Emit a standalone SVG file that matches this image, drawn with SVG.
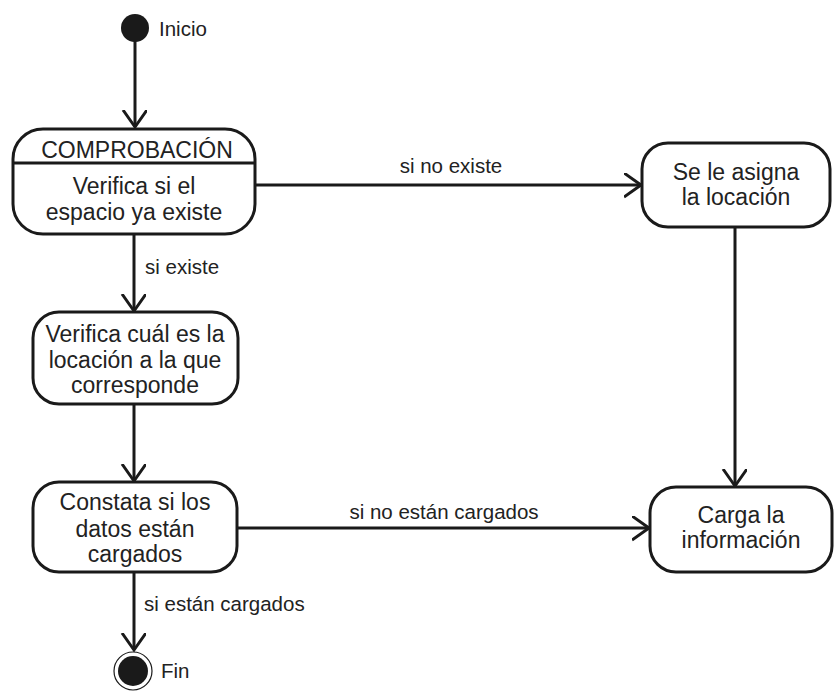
<svg xmlns="http://www.w3.org/2000/svg" width="835" height="691" viewBox="0 0 835 691">
<style>
.node{fill:#fff;stroke:#1a1a1a;stroke-width:3}
.nt{font-family:"Liberation Sans",Arial,sans-serif;font-size:23px;fill:#222;text-anchor:middle}
.lt{font-family:"Liberation Sans",Arial,sans-serif;font-size:20.5px;fill:#222}
.edge{fill:none;stroke:#1a1a1a;stroke-width:3;marker-end:url(#arr)}
</style>
<defs>
<marker id="arr" markerUnits="userSpaceOnUse" markerWidth="30" markerHeight="30" refX="17" refY="12" orient="auto">
<path d="M0,0 L17,12 L0,24" fill="none" stroke="#1a1a1a" stroke-width="3"/>
</marker>
</defs>
<g id="connectors">
<line class="edge" x1="135" y1="40" x2="135" y2="127"/>
<line class="edge" x1="134" y1="235" x2="134" y2="311"/>
<line class="edge" x1="134" y1="405" x2="134" y2="481"/>
<line class="edge" x1="134" y1="573" x2="134" y2="650"/>
<line class="edge" x1="256" y1="185" x2="641" y2="185"/>
<line class="edge" x1="735" y1="228" x2="735" y2="486"/>
<line class="edge" x1="238" y1="528" x2="649" y2="528"/>
<text class="lt" x="145" y="274">si existe</text>
<text class="lt" x="144" y="611">si están cargados</text>
<text class="lt" x="451" y="173" text-anchor="middle">si no existe</text>
<text class="lt" x="444" y="519" text-anchor="middle">si no están cargados</text>
</g>
<g id="inicio">
<circle cx="135" cy="28" r="14" fill="#1a1a1a"/>
<text class="lt" x="159" y="36">Inicio</text>
</g>
<g id="comprobacion">
<rect class="node" x="13" y="129" width="242" height="105" rx="30"/>
<line x1="13" y1="163" x2="255" y2="163" stroke="#1a1a1a" stroke-width="3"/>
<text class="nt" x="137" y="158" font-size="27">COMPROBACIÓN</text>
<text class="nt" x="134" y="194">Verifica si el</text>
<text class="nt" x="134" y="220">espacio ya existe</text>
</g>
<g id="verifica">
<rect class="node" x="33" y="312" width="205" height="92" rx="26"/>
<text class="nt" x="135" y="342">Verifica cuál es la</text>
<text class="nt" x="135" y="368">locación a la que</text>
<text class="nt" x="135" y="393">corresponde</text>
</g>
<g id="constata">
<rect class="node" x="33" y="482" width="204" height="90" rx="26"/>
<text class="nt" x="135" y="510">Constata si los</text>
<text class="nt" x="135" y="537">datos están</text>
<text class="nt" x="135" y="562">cargados</text>
</g>
<g id="asigna">
<rect class="node" x="642" y="143" width="188" height="84" rx="26"/>
<text class="nt" x="736" y="180">Se le asigna</text>
<text class="nt" x="736" y="205">la locación</text>
</g>
<g id="carga">
<rect class="node" x="650" y="487" width="182" height="85" rx="26"/>
<text class="nt" x="741" y="523">Carga la</text>
<text class="nt" x="741" y="548">información</text>
</g>
<g id="fin">
<circle cx="133" cy="671" r="19" fill="#fff" stroke="#1a1a1a" stroke-width="1.2"/>
<circle cx="133" cy="671" r="15" fill="#1a1a1a"/>
<text class="lt" x="161" y="678">Fin</text>
</g>
</svg>
